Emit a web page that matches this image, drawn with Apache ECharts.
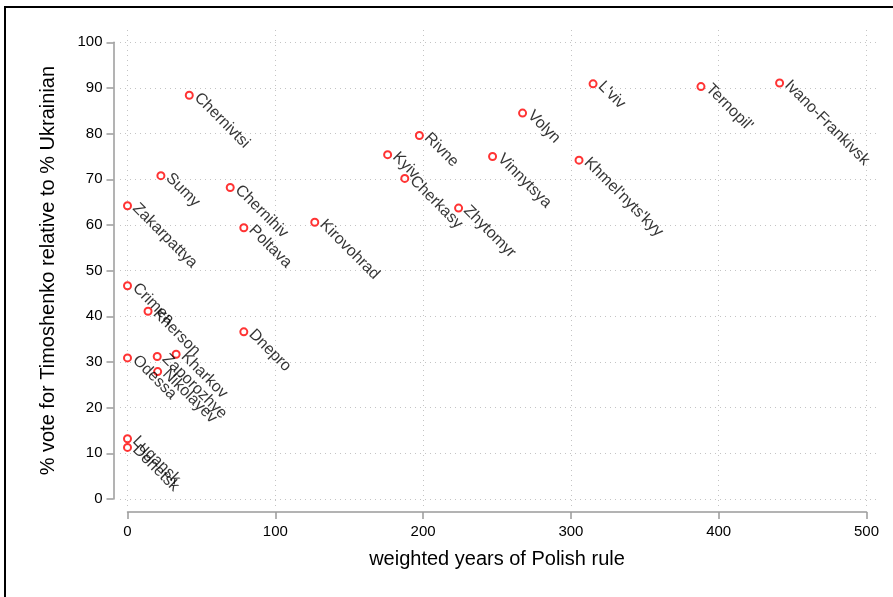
<!DOCTYPE html>
<html><head><meta charset="utf-8">
<script src="https://cdn.jsdelivr.net/npm/echarts@6/dist/echarts.min.js"></script>
<style>html,body{margin:0;padding:0;background:#fff}#c{width:893px;height:597px}</style>
</head><body><div id="c"></div>
<script>
const regions = ["Chernivtsi","Sumy","Zakarpattya","Chernihiv","Poltava","Rivne","Kyiv","Cherkasy","Vinnytsya","Zhytomyr","Kirovohrad","Volyn","L'viv","Ternopil'","Ivano-Frankivsk","Khmel'nyts'kyy","Crimea","Kherson","Dnepro","Kharkov","Zaporozhye","Odessa","Nikolayev","Lugansk","Donetsk"];
const polishYears = [41.8,22.6,0,69.5,78.7,197.5,176,187.6,247,224,126.7,267.3,315,388,441.2,305.5,0,13.9,78.7,32.9,20.1,0,20.4,0,0];
const timoshenkoVote = [88.4,70.8,64.2,68.2,59.4,79.6,75.4,70.2,75.0,63.7,60.6,84.5,90.9,90.3,91.1,74.2,46.7,41.1,36.6,31.7,31.2,30.9,27.9,13.2,11.3];
const xTicks = [0,100,200,300,400,500];
const yTicks = [0,10,20,30,40,50,60,70,80,90,100];
const xTitle = "weighted years of Polish rule";
const yTitle = "% vote for Timoshenko relative to % Ukrainian";

const FONT = "'Liberation Sans', Arial, sans-serif";
const xStep = xTicks[1]-xTicks[0], yStep = yTicks[1]-yTicks[0];
const xMin = xTicks[0], xMax = xTicks[xTicks.length-1];
const yMin = yTicks[0], yMax = yTicks[yTicks.length-1];

const chart = echarts.init(document.getElementById('c'), null, {renderer:'canvas'});
const grid = {
  type:'dashed' 
};
const dotted = {show:true, showMinLine:false, showMaxLine:false, lineStyle:{color:'#c4c4c4', width:1, type:[1,4]}};
const axisGray = '#9a9a9a';
chart.setOption({
  animation:false,
  backgroundColor:'#fff',
  textStyle:{fontFamily:FONT},
  graphic:[{type:'rect', shape:{x:5,y:7,width:1000,height:1000}, style:{fill:'none', stroke:'#000', lineWidth:2}, silent:true, z:100}],
  grid:[
    {left:120, top:30, width:759, height:476},
    {left:127.5, top:42.3, width:739, height:456.7}
  ],
  xAxis:[
    {gridIndex:0, type:'value', min:-5.07, max:508.5, splitNumber:5, axisLine:{show:false}, axisTick:{show:false}, axisLabel:{show:false}, splitLine:dotted},
    {gridIndex:1, type:'value', min:xMin, max:xMax, interval:xStep, position:'bottom', offset:13,
     axisLine:{show:true, onZero:false, lineStyle:{color:axisGray, width:1.5}},
     axisTick:{show:true, length:7, lineStyle:{color:axisGray, width:1.5}},
     axisLabel:{color:'#000', fontSize:15, margin:12, fontFamily:FONT},
     splitLine:{show:false},
     name:xTitle, nameLocation:'middle', nameGap:37, nameTextStyle:{color:'#000', fontSize:20, fontFamily:FONT}}
  ],
  yAxis:[
    {gridIndex:0, type:'value', min:-1.53, max:102.7, splitNumber:10, axisLine:{show:false}, axisTick:{show:false}, axisLabel:{show:false}, splitLine:dotted},
    {gridIndex:1, type:'value', min:yMin, max:yMax, interval:yStep, position:'left', offset:14,
     axisLine:{show:true, onZero:false, lineStyle:{color:axisGray, width:1.5}},
     axisTick:{show:true, length:7, lineStyle:{color:axisGray, width:1.5}},
     axisLabel:{color:'#000', fontSize:15, margin:11, fontFamily:FONT},
     splitLine:{show:false},
     name:yTitle, nameLocation:'middle', nameGap:55, nameTextStyle:{color:'#000', fontSize:20, fontFamily:FONT}}
  ],
  series:[{
    type:'scatter', xAxisIndex:1, yAxisIndex:1,
    symbol:'emptyCircle', symbolSize:7,
    itemStyle:{color:'#ff0000', borderColor:'#ff0000', borderWidth:1.5},
    data: regions.map((r,i)=>({name:r, value:[polishYears[i], timoshenkoVote[i]]})),
    label:{show:true, position:'right', distance:3, rotate:-45, formatter:'{b}', color:'#000', fontSize:16, fontFamily:FONT},
    labelLayout:{hideOverlap:false}
  }]
});
</script></body></html>
